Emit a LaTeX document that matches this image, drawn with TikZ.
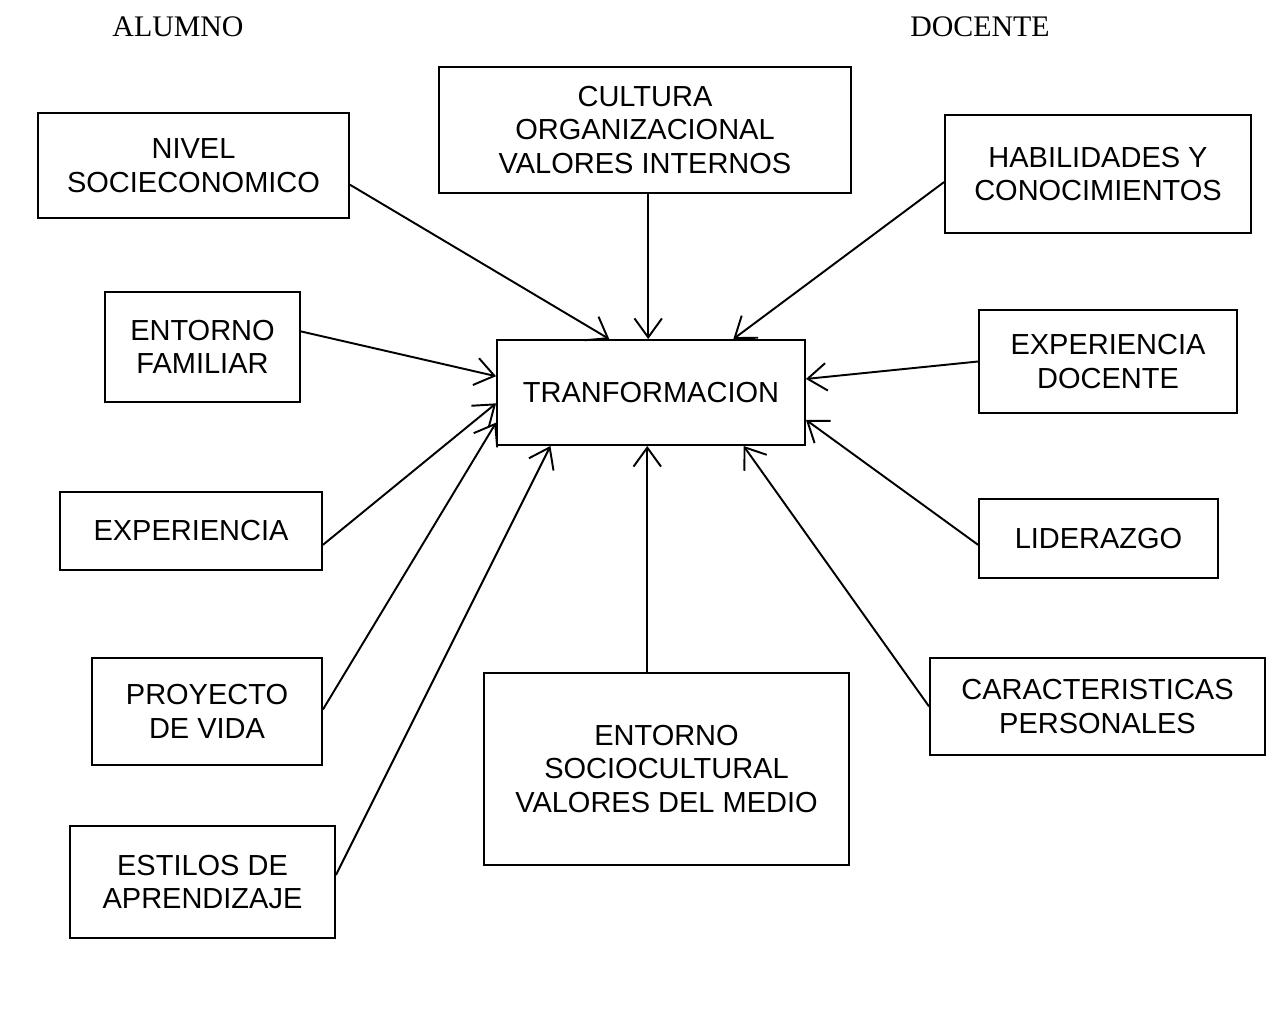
\documentclass[tikz,border=0pt]{standalone}
\usepackage{fontspec}
\setmainfont{Liberation Sans}
\newfontfamily\headfont{Liberation Serif}
\usetikzlibrary{arrows.meta}

\begin{document}
\begin{tikzpicture}[x=0.02cm,y=-0.02cm,
    box/.style={draw=black,line width=1.1pt,align=center,inner sep=0pt,
        font=\fontsize{16.5}{19}\selectfont},
    head/.style={font=\headfont\fontsize{17}{20}\selectfont}]

    \useasboundingbox (0,0) rectangle (1273,1010);

        \node[head] (alumno) at (178,27) {ALUMNO};
        \node[head] (docente) at (980,27) {DOCENTE};

        \begin{scope}[every node/.style={box}]
            \node[minimum width=6.22cm,minimum height=2.10cm] (nivel) at (193.5,165.5) {NIVEL\\SOCIECONOMICO};
            \node[minimum width=8.24cm,minimum height=2.52cm] (cultura) at (645,130) {CULTURA\\ORGANIZACIONAL\\VALORES INTERNOS};
            \node[minimum width=6.12cm,minimum height=2.36cm] (habil) at (1098,174) {HABILIDADES Y\\CONOCIMIENTOS};
            \node[minimum width=3.90cm,minimum height=2.20cm] (familiar) at (202.5,347) {ENTORNO\\FAMILIAR};
            \node[minimum width=6.16cm,minimum height=2.10cm] (tranf) at (651,392.5) {TRANFORMACION};
            \node[minimum width=5.16cm,minimum height=2.06cm] (expdoc) at (1108,361.5) {EXPERIENCIA\\DOCENTE};
            \node[minimum width=5.24cm,minimum height=1.56cm] (exper) at (191,531) {EXPERIENCIA};
            \node[minimum width=4.78cm,minimum height=1.58cm] (lider) at (1098.5,538.5) {LIDERAZGO};
            \node[minimum width=4.60cm,minimum height=2.14cm] (proyecto) at (207,711.5) {PROYECTO\\DE VIDA};
            \node[minimum width=7.30cm,minimum height=3.84cm] (socio) at (666.5,769) {ENTORNO\\SOCIOCULTURAL\\VALORES DEL MEDIO};
            \node[minimum width=6.70cm,minimum height=1.94cm] (caract) at (1097.5,706.5) {CARACTERISTICAS\\PERSONALES};
            \node[minimum width=5.30cm,minimum height=2.24cm] (estilos) at (202.5,882) {ESTILOS DE\\APRENDIZAJE};
        \end{scope}

        \begin{scope}[every edge/.style={draw=black,line width=1.1pt,
                -{Straight Barb[length=3.8mm,width=5.5mm]}}]
            \path (nivel.353.6) edge (tranf.128.9);
            \path (cultura.south -| tranf.93.3) edge (tranf.93.3);
            \path (habil.183.4) edge (tranf.33.9);
            \path (familiar.9.9) edge (tranf.174.3);
            \path (expdoc.west) edge (tranf.5.7);
            \path (exper.354.8) edge (tranf.184.6);
            \path (lider.183.1) edge (tranf.350.6);
            \path (proyecto.1.7) edge (tranf.191.9);
            \path (estilos.3) edge (tranf.208.4);
            \path (socio.north -| tranf.266.7) edge (tranf.266.7);
            \path (caract.west) edge (tranf.330.7);
        \end{scope}

    \end{tikzpicture}
\end{document}
